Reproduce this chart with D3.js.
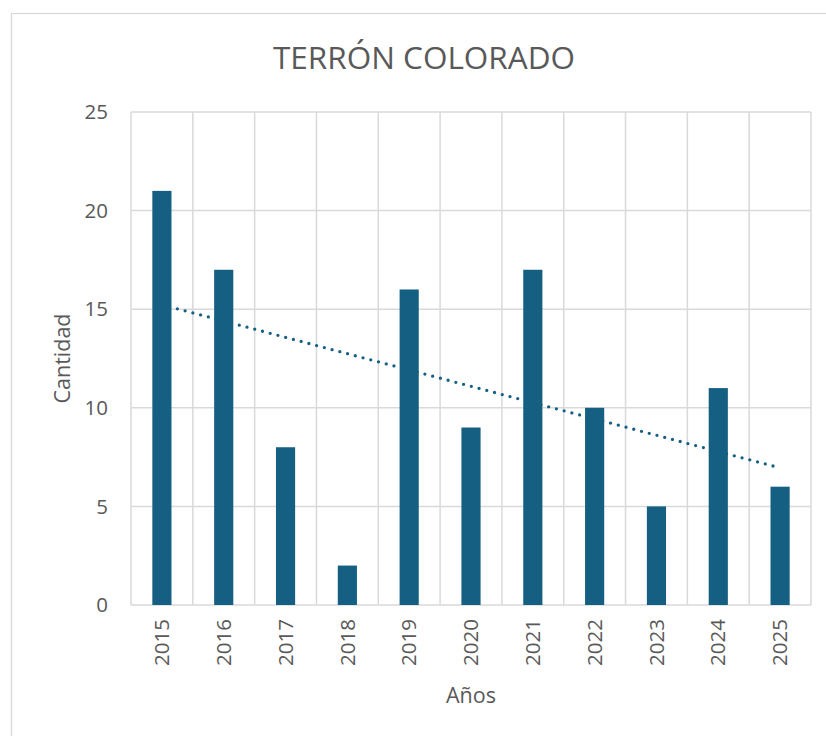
<!DOCTYPE html>
<html>
<head>
<meta charset="utf-8">
<script src="https://cdn.jsdelivr.net/npm/d3@7"></script>
<style>
  body { margin: 0; background: #fff; }
  text { font-family: "Open Sans", sans-serif; fill: #595959; }
</style>
</head>
<body>
<svg id="chart"></svg>
<script>
var width = 826;
var height = 736;

var years = ['2015', '2016', '2017', '2018', '2019', '2020', '2021', '2022', '2023', '2024', '2025'];
var cantidad = [21, 17, 8, 2, 16, 9, 17, 10, 5, 11, 6];
var yTicks = [0, 5, 10, 15, 20, 25];

var barColor = '#156082';
var gridColor = '#d9d9d9';

var plot = {left: 131, top: 112, right: 811, bottom: 605};

var svg = d3.select('#chart')
    .attr('width', width)
    .attr('height', height);

// chart area border
svg.append('rect')
    .attr('x', 11.5)
    .attr('y', 13.5)
    .attr('width', 840)
    .attr('height', 760)
    .attr('fill', '#fff')
    .attr('stroke', gridColor)
    .attr('stroke-width', 1.3);

var xScale = d3.scaleBand()
    .domain(years)
    .range([plot.left, plot.right])
    .paddingInner(0.69)
    .paddingOuter(0.345);

var xGrid = d3.scaleLinear()
    .domain([0, years.length])
    .range([plot.left, plot.right]);

var yScale = d3.scaleLinear()
    .domain([0, 25])
    .range([plot.bottom, plot.top]);

// horizontal gridlines
svg.append('g')
  .selectAll('line')
  .data(yTicks)
  .enter()
  .append('line')
    .attr('x1', plot.left)
    .attr('x2', plot.right)
    .attr('y1', d => yScale(d))
    .attr('y2', d => yScale(d))
    .attr('stroke', gridColor)
    .attr('stroke-width', 1.5);

// vertical gridlines at category boundaries
svg.append('g')
  .selectAll('line')
  .data(d3.range(years.length + 1))
  .enter()
  .append('line')
    .attr('x1', d => xGrid(d))
    .attr('x2', d => xGrid(d))
    .attr('y1', plot.top)
    .attr('y2', plot.bottom)
    .attr('stroke', gridColor)
    .attr('stroke-width', 1.5);

// bars
svg.append('g')
  .selectAll('rect')
  .data(cantidad)
  .enter()
  .append('rect')
    .attr('x', (d, i) => xScale(years[i]))
    .attr('y', d => yScale(d))
    .attr('width', xScale.bandwidth())
    .attr('height', d => plot.bottom - yScale(d))
    .attr('fill', barColor);

// linear trendline (least squares over the series)
var n = cantidad.length;
var xm = d3.mean(d3.range(n));
var ym = d3.mean(cantidad);
var slope = d3.sum(cantidad, (d, i) => (i - xm) * (d - ym)) / d3.sum(d3.range(n), i => (i - xm) * (i - xm));
var intercept = ym - slope * xm;

svg.append('line')
    .attr('x1', xScale(years[0]) + xScale.bandwidth() / 2)
    .attr('x2', xScale(years[n - 1]) + xScale.bandwidth() / 2)
    .attr('y1', yScale(intercept))
    .attr('y2', yScale(intercept + slope * (n - 1)))
    .attr('stroke', barColor)
    .attr('stroke-width', 3.3)
    .attr('stroke-linecap', 'round')
    .attr('stroke-dasharray', '0,8');

// y tick labels
svg.append('g')
  .selectAll('text')
  .data(yTicks)
  .enter()
  .append('text')
    .attr('x', 108)
    .attr('y', d => yScale(d))
    .attr('dy', '0.35em')
    .attr('text-anchor', 'end')
    .style('font-size', '20.5px')
    .text(d => d);

// x tick labels (rotated)
svg.append('g')
  .selectAll('text')
  .data(years)
  .enter()
  .append('text')
    .attr('transform', d => 'translate(' + (xScale(d) + xScale.bandwidth() / 2) + ',' + 619 + ') rotate(-90)')
    .attr('dy', '0.35em')
    .attr('text-anchor', 'end')
    .style('font-size', '20.5px')
    .text(d => d);

// titles
svg.append('text')
    .attr('x', 424)
    .attr('y', 69)
    .attr('text-anchor', 'middle')
    .style('font-size', '31.5px')
    .text('TERRÓN COLORADO');

svg.append('text')
    .attr('x', (plot.left + plot.right) / 2)
    .attr('y', 703)
    .attr('text-anchor', 'middle')
    .style('font-size', '21.5px')
    .text('Años');

svg.append('text')
    .attr('transform', 'translate(70,' + (plot.top + plot.bottom) / 2 + ') rotate(-90)')
    .attr('text-anchor', 'middle')
    .style('font-size', '21.5px')
    .text('Cantidad');
</script>
</body>
</html>
